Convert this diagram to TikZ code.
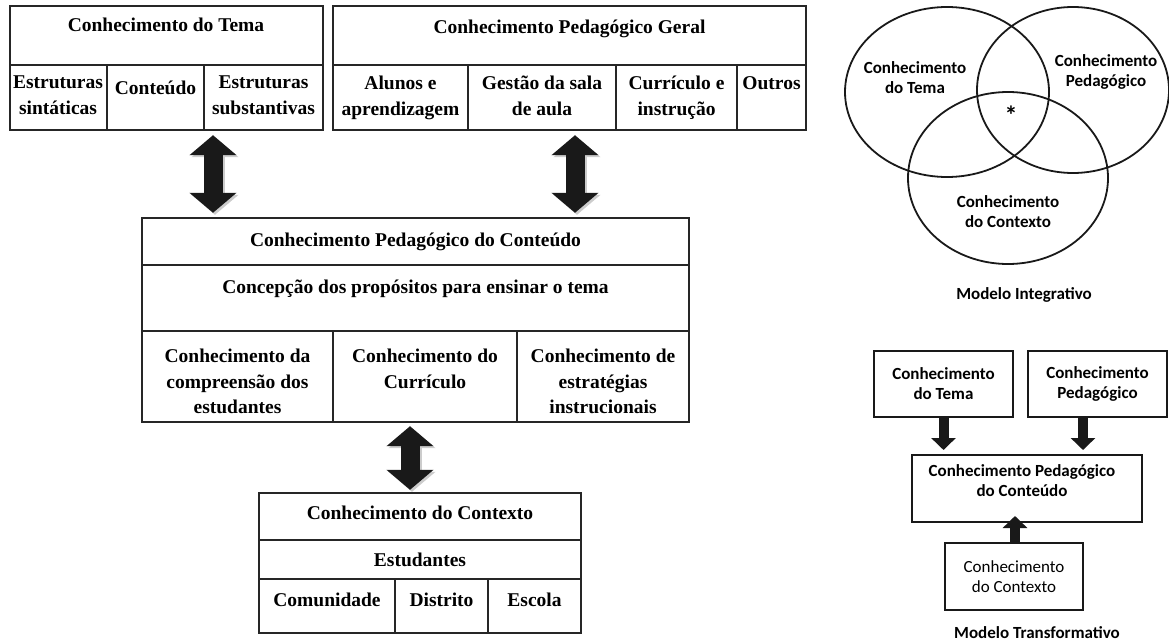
\documentclass[tikz,border=0pt]{standalone}
\usepackage{fontspec}
\setmainfont{Liberation Serif}
\newfontfamily\calfont{Carlito}
\usetikzlibrary{arrows.meta,fit,shapes.geometric}
\begin{document}
\begin{tikzpicture}[x=1pt,y=-1pt,
  cell/.style={draw=black!85, line width=1.4pt, inner sep=0pt},
  frame/.style={inner sep=0pt},
  ttxt/.style={font=\fontsize{19.5}{25.5}\selectfont\bfseries, align=center, inner sep=0pt, anchor=north},
  ctxt/.style={font=\calfont\bfseries\fontsize{17}{20}\selectfont, align=center, inner sep=0pt},
  cbox/.style={draw=black!90, line width=2pt, inner sep=0pt},
  vcirc/.style={draw=black!90, line width=1.8pt, ellipse, inner sep=0pt},
  bigarrow/.style={line width=19pt, draw=black!90, {Triangle[width=46pt,length=20pt]}-{Triangle[width=46pt,length=20pt]}},
  bigshadow/.style={line width=19pt, draw=gray!40, {Triangle[width=46pt,length=20pt]}-{Triangle[width=46pt,length=20pt]}, transform canvas={shift={(2pt,-2pt)}}},
  smallarrow/.style={line width=10pt, draw=black!90, -{Triangle[width=24pt,length=12pt]}}
]
\useasboundingbox (0,0) rectangle (1169,642);

% ---------- Conhecimento do Tema ----------
\node[frame, fit={(10,6)(323,130)}] (tema) {};
\node[cell, fit={(10,6)(323,65)}] (temaH) {};
\node[cell, fit={(10,65)(107,130)}] (temaA) {};
\node[cell, fit={(107,65)(204,130)}] (temaB) {};
\node[cell, fit={(204,65)(323,130)}] (temaC) {};
\node[ttxt] (temaHt) at (166,18) {Conhecimento do Tema};
\node[ttxt] (temaAt) at (58,76) {Estruturas\\sintáticas};
\node[ttxt] (temaBt) at (155.5,81) {Conteúdo};
\node[ttxt] (temaCt) at (263.5,76) {Estruturas\\substantivas};

% ---------- Conhecimento Pedagógico Geral ----------
\node[frame, fit={(333,6)(806,130)}] (ped) {};
\node[cell, fit={(333,6)(806,65)}] (pedH) {};
\node[cell, fit={(333,65)(468,130)}] (pedA) {};
\node[cell, fit={(468,65)(616,130)}] (pedB) {};
\node[cell, fit={(616,65)(737,130)}] (pedC) {};
\node[cell, fit={(737,65)(806,130)}] (pedD) {};
\node[ttxt] (pedHt) at (569.5,20) {Conhecimento Pedagógico Geral};
\node[ttxt] (pedAt) at (400.5,76) {Alunos e\\aprendizagem};
\node[ttxt] (pedBt) at (542,76) {Gestão da sala\\de aula};
\node[ttxt] (pedCt) at (676.5,76) {Currículo e\\instrução};
\node[ttxt] (pedDt) at (771.5,76) {Outros};

% ---------- Conhecimento Pedagógico do Conteúdo ----------
\node[frame, fit={(142,218)(689,422)}] (pck) {};
\node[cell, fit={(142,218)(689,265)}] (pckH) {};
\node[cell, fit={(142,265)(689,331)}] (pckP) {};
\node[cell, fit={(142,331)(333,422)}] (pckA) {};
\node[cell, fit={(333,331)(517,422)}] (pckB) {};
\node[cell, fit={(517,331)(689,422)}] (pckC) {};
\node[ttxt] (pckHt) at (415.5,233) {Conhecimento Pedagógico do Conteúdo};
\node[ttxt] (pckPt) at (415.5,280) {Concepção dos propósitos para ensinar o tema};
\node[ttxt] (pckAt) at (237.5,349) {Conhecimento da\\compreensão dos\\estudantes};
\node[ttxt] (pckBt) at (425,349) {Conhecimento do\\Currículo};
\node[ttxt] (pckCt) at (603,349) {Conhecimento de\\estratégias\\instrucionais};

% ---------- Conhecimento do Contexto ----------
\node[frame, fit={(259,493)(581,633)}] (ctx) {};
\node[cell, fit={(259,493)(581,540)}] (ctxH) {};
\node[cell, fit={(259,540)(581,579)}] (ctxE) {};
\node[cell, fit={(259,579)(395,633)}] (ctxA) {};
\node[cell, fit={(395,579)(488,633)}] (ctxB) {};
\node[cell, fit={(488,579)(581,633)}] (ctxC) {};
\node[ttxt] (ctxHt) at (420,506) {Conhecimento do Contexto};
\node[ttxt] (ctxEt) at (420,553) {Estudantes};
\node[ttxt] (ctxAt) at (327,593) {Comunidade};
\node[ttxt] (ctxBt) at (441.5,593) {Distrito};
\node[ttxt] (ctxCt) at (534.5,593) {Escola};

% ---------- big double arrows ----------
\draw[bigshadow] ([xshift=46.5pt,yshift=-5pt]tema.south) -- ([xshift=-202.5pt,yshift=5pt]pck.north);
\draw[bigarrow] ([xshift=46.5pt,yshift=-5pt]tema.south) -- ([xshift=-202.5pt,yshift=5pt]pck.north);
\draw[bigshadow] ([xshift=5.5pt,yshift=-5pt]ped.south) -- ([xshift=159.5pt,yshift=5pt]pck.north);
\draw[bigarrow] ([xshift=5.5pt,yshift=-5pt]ped.south) -- ([xshift=159.5pt,yshift=5pt]pck.north);
\draw[bigshadow] ([xshift=-5.5pt,yshift=-4pt]pck.south) -- ([xshift=-10pt,yshift=3pt]ctx.north);
\draw[bigarrow] ([xshift=-5.5pt,yshift=-4pt]pck.south) -- ([xshift=-10pt,yshift=3pt]ctx.north);

% ---------- Modelo Integrativo ----------
\node[vcirc, minimum width=204pt, minimum height=170pt] (vT) at (947,92) {};
\node[vcirc, minimum width=192pt, minimum height=166pt] (vP) at (1073,90) {};
\node[vcirc, minimum width=200pt, minimum height=172pt] (vC) at (1008,178) {};
\node[ctxt] (vTt) at (915,78) {Conhecimento\\do Tema};
\node[ctxt] (vPt) at (1106,72) {Conhecimento\\Pedagógico};
\node[ctxt, font=\calfont\bfseries\fontsize{26}{26}\selectfont] (vst) at (1011,115) {*};
\node[ctxt] (vCt) at (1008,212) {Conhecimento\\do Contexto};
\node[ctxt] (mi) at (1024,295) {Modelo Integrativo};

% ---------- Modelo Transformativo ----------
\node[cbox, fit={(874,351)(1013,417)}] (tA) {};
\node[ctxt] (tAt) at (943.5,384) {Conhecimento\\do Tema};
\node[cbox, fit={(1028,351)(1167,417)}] (tB) {};
\node[ctxt] (tBt) at (1097.5,384) {Conhecimento\\Pedagógico};
\node[cbox, fit={(912,455)(1142,522)}] (tC) {};
\node[ctxt] (tCt) at (1022,481) {Conhecimento Pedagógico\\do Conteúdo};
\node[cbox, fit={(945,543)(1083,610)}] (tD) {};
\node[ctxt, font=\calfont\fontsize{17}{20}\selectfont] (tDt) at (1014,577) {Conhecimento\\do Contexto};
\node[ctxt] (mt) at (1037,633) {Modelo Transformativo};

\draw[smallarrow] (tA.south) -- ([xshift=-83.5pt,yshift=4pt]tC.north);
\draw[smallarrow] ([xshift=-14.5pt]tB.south) -- ([xshift=56pt,yshift=4pt]tC.north);
\draw[smallarrow] ([xshift=1pt]tD.north) -- ([xshift=-12pt,yshift=7pt]tC.south);
\end{tikzpicture}
\end{document}
